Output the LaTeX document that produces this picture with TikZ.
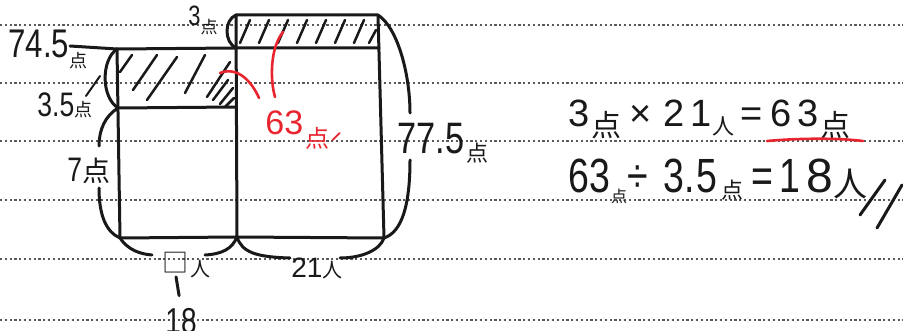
\documentclass[tikz,border=0pt]{standalone}
\usepackage{fontspec}
\setmainfont[FakeStretch=0.78]{Liberation Sans}
\newfontfamily\wideface{Liberation Sans}
\newfontfamily\unitfont{Noto Sans CJK JP}
\usetikzlibrary{arrows.meta}
\definecolor{markred}{HTML}{E8252E}
\newcommand\tani[3]{\raisebox{#2}{\unitfont\fontsize{#1}{#1}\selectfont #3}}
\newcommand\numsize[1]{\fontsize{#1}{#1}\selectfont}

\begin{document}
\begin{tikzpicture}[
  x={(0.5pt,0pt)}, y={(0pt,-0.5pt)},
  pen/.style={line width=1.5pt, black!90, line cap=round, line join=round},
  hatch/.style={pen, line width=1.25pt},
  rule/.style={black!65, line width=1.1pt, dash pattern=on 1.1pt off 1.3pt},
  redpen/.style={markred, line width=1.3pt, line cap=round},
  numlabel/.style={anchor=base west, inner sep=0pt, text=black!90},
  redlabel/.style={numlabel, text=markred}
]
  \fill[white] (0,0) rectangle (903,331);
  \useasboundingbox (0,0) rectangle (903,331);

  % ruled paper
  \foreach \y in {25,83,141,200,259,320}
    \draw[rule] (0,\y) -- (903,\y);

  % corners of the two rectangles
  \coordinate (lead) at (70,46);
  \coordinate (lnw) at (117,49);
  \coordinate (lmw) at (118,108);
  \coordinate (lsw) at (120,238);
  \coordinate (mn) at (236,15);
  \coordinate (mmid) at (236,48);
  \coordinate (mlow) at (236,107);
  \coordinate (ms) at (237,237);
  \coordinate (rne) at (378,15);
  \coordinate (rmid) at (379,48);
  \coordinate (rse) at (384,238);

  % hatching
  \foreach \xa/\ya/\xb/\yb in {120/72/132/55, 133/90/157/55, 147/100/177/57,
      185/93/205/55, 207/97/230/62, 213/100/228/80, 220/104/233/88, 225/107/234/98}
    \draw[hatch] (\xa,\ya) -- (\xb,\yb);
  \foreach \x in {240,259,...,355}
    \draw[hatch] (\x,43) -- ++(10,-23);
  \draw[hatch] (369,43) -- (376,30);

  \draw[pen] (lead) -- (lnw) -- (mmid) -- (rmid);
  \draw[pen] (lnw) -- (lsw) -- (ms) -- (rse) -- (rne) -- (mn) -- (ms);
  \draw[pen] (lmw) -- (mlow);

  % labels
  \node[numlabel, font=\numsize{20pt}] (l745) at (8,58) {74.5\tani{9pt}{-5pt}{点}};
  \node[numlabel, font=\numsize{17pt}] (l35) at (37,117) {3.5\tani{9pt}{0pt}{点}};
  \node[numlabel, font=\numsize{17pt}] (l7) at (67,182) {7\tani{14pt}{0pt}{点}};
  \node[numlabel, font=\numsize{14pt}] (l3) at (188,26) {3\tani{8.5pt}{-4pt}{点}};
  \node[numlabel, font=\numsize{22pt}] (l775) at (397,154) {77.5\hspace{1pt}\tani{11pt}{-4pt}{点}};
  \node[redlabel, font=\wideface\numsize{17pt}] (l63) at (265,135) {63\hspace{1pt}\tani{12pt}{-6pt}{点}};
  \node[numlabel, font=\wideface\numsize{14pt}] (l21) at (291,277) {21\tani{10pt}{0pt}{人}};
  \node[numlabel, font=\unitfont\numsize{13pt}] (lbox) at (162,272) {□};
  \node[numlabel, font=\unitfont\numsize{10pt}] (lppl) at (190,276) {人};
  \node[numlabel, font=\numsize{18pt}] (l18) at (165,333) {18};

  % braces
  \coordinate (b7top) at (99,146);
  \coordinate (b7bot) at (99,188);
  \coordinate (bLa) at (152,255);
  \coordinate (bLb) at (205,255);
  \coordinate (bRa) at (290,258);
  \coordinate (bRb) at (340,258);
  \coordinate (bbTop) at (410,113);
  \coordinate (bbBot) at (410,160);
  \draw[pen] (mn) .. controls (224,20) and (224,42) .. (mmid);
  \draw[pen] (lnw) .. controls (101,60) and (101,97) .. (lmw);
  \draw[pen] (lmw) .. controls (105,116) and (99,130) .. (b7top);
  \draw[pen] (b7bot) .. controls (99,215) and (106,232) .. (lsw)
    .. controls (128,250) and (140,254) .. (bLa);
  \draw[pen] (bLb) .. controls (222,254) and (232,249) .. (ms);
  \draw[pen] (ms) .. controls (242,252) and (255,257) .. (bRa);
  \draw[pen] (bRb) .. controls (362,258) and (380,250) .. (rse);
  \draw[pen] (rne) .. controls (398,28) and (410,75) .. (bbTop);
  \draw[pen] (bbBot) .. controls (410,205) and (402,232) .. (rse);
  \draw[pen, line width=1pt] (86,96) -- (100,76);
  \draw[pen, shorten <=2pt, shorten >=6pt] (lbox.south) -- (l18.north);

  % red marks
  \coordinate (redL) at (220,73);
  \coordinate (redR) at (283,32);
  \coordinate (redLend) at (259,98);
  \coordinate (redRend) at (275,97);
  \draw[redpen] (redL) .. controls (238,66) and (252,82) .. (redLend);
  \draw[redpen] (redR) .. controls (270,48) and (270,80) .. (redRend);
  \draw[redpen, line width=0.9pt] (l63.base east) ++(3,5) -- ++(7,-7);

  % working
  \node[numlabel, font=\wideface\numsize{19pt}] (eq1) at (568,127)
    {3\hspace{1pt}\tani{15pt}{-5pt}{点}\hspace{4pt}×\hspace{6pt}2\hspace{3pt}1\tani{11pt}{-4pt}{人}\hspace{3pt}=\hspace{4pt}6\hspace{3pt}3\hspace{1pt}\tani{15pt}{-5pt}{点}};
  \node[numlabel, font=\numsize{24pt}] (eq2) at (568,192)
    {63\hspace{0.5pt}\tani{8pt}{-5pt}{点}÷\hspace{8pt}3.\hspace{1pt}5\hspace{2pt}\tani{11pt}{-3pt}{点}\hspace{4pt}=\hspace{3pt}1\hspace{3pt}{\wideface 8}\tani{17pt}{-2pt}{人}};
  \coordinate (ulA) at (767,141);
  \coordinate (ulB) at (863,141);
  \draw[redpen] (ulA) .. controls (800,138) and (840,138) .. (ulB);
  \draw[pen] (860,215) -- (885,180);
  \draw[pen] (877,228) -- (902,185);
\end{tikzpicture}
\end{document}
